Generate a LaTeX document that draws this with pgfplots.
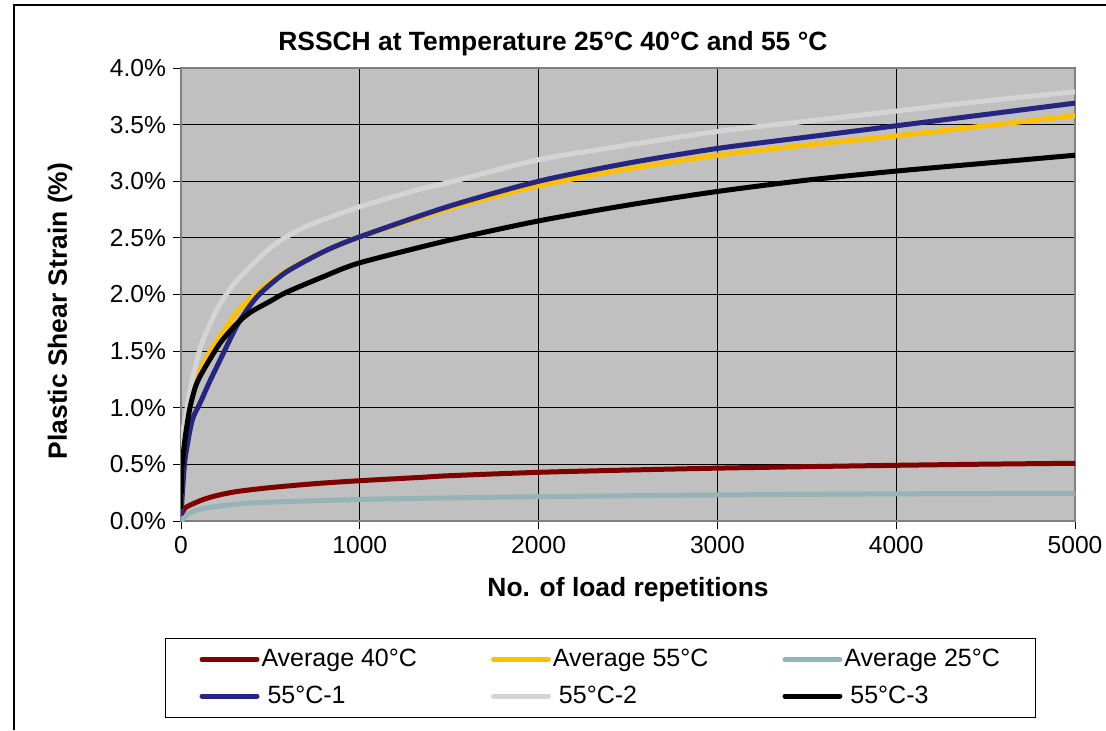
\documentclass[border=0pt]{standalone}
\usepackage{fontspec}
\setmainfont{Liberation Sans}
\usepackage{pgfplots}
\pgfplotsset{compat=1.18}

\definecolor{bggray}{HTML}{C0C0C0}
\definecolor{framegray}{HTML}{808080}
\definecolor{avgred}{HTML}{800000}
\definecolor{avgyellow}{HTML}{FFC000}
\definecolor{avgteal}{HTML}{96B4B8}
\definecolor{navy}{HTML}{262680}
\definecolor{lgray}{HTML}{D4D4D4}

\begin{document}
\begin{tikzpicture}
\path[use as bounding box] (0pt,0pt) rectangle (553pt,-365pt);
\draw[line width=1pt] (7pt,-365pt) -- (7pt,-2.5pt) -- (553pt,-2.5pt);
\begin{axis}[
    at={(90.5pt,-260.5pt)}, anchor=south west,
    scale only axis, width=447pt, height=226.5pt,
    xmin=0, xmax=5000, ymin=0, ymax=4,
    xtick={0,1000,...,5000}, ytick={0,0.5,...,4},
    scaled x ticks=false,
    /pgf/number format/assume math mode=true,
    /pgf/number format/1000 sep={},
    yticklabel={\pgfmathprintnumber[fixed,fixed zerofill,precision=1]{\tick}\%},
    ticklabel style={font=\fontsize{12.3}{14}\selectfont},
    grid=major, major grid style={black, line width=0.5pt},
    axis background/.style={fill=bggray},
    axis line style={draw=framegray, line width=1pt},
    tick align=outside, tick pos=left, major tick length=4pt,
    tick style={black, line width=0.5pt},
    title={RSSCH at Temperature 25°C 40°C and 55 °C},
    title style={font=\fontsize{13.2}{15}\selectfont\bfseries, at={(axis description cs:0.416,1)}, anchor=base, yshift=3pt},
    xlabel={No. of load repetitions},
    xlabel style={font=\fontsize{13.2}{15}\selectfont\bfseries, at={(axis description cs:0.5,-0.152)}, anchor=center},
    ylabel={Plastic Shear Strain (\%)},
    ylabel style={font=\fontsize{13.2}{15}\selectfont\bfseries, at={(axis description cs:-0.1353,0.4636)}, anchor=center},
    legend columns=3,
    legend cell align=left,
    legend image code/.code={\draw[#1, line cap=round] (0pt,0pt) -- (27.5pt,0pt);},
    legend style={at={(axis description cs:-0.0179,-0.2583)}, anchor=north west,
        draw=black, line width=0.5pt, fill=white,
        font=\fontsize{12.5}{14}\selectfont,
        inner xsep=17pt, inner ysep=4.4pt, row sep=6pt,
        nodes={inner sep=1pt},
        /tikz/column 2/.append style={column sep=36pt},
        /tikz/column 4/.append style={column sep=36pt}},
    every axis plot/.append style={line width=2.5pt, line join=round, smooth, tension=0.45},
]
\addplot[avgred] coordinates {(0,0.05) (20,0.11) (50,0.14) (125,0.19) (200,0.225) (311,0.26) (498,0.295) (750,0.33) (1000,0.356) (1337,0.385) (1500,0.40) (2000,0.43) (2500,0.45) (3000,0.467) (3500,0.48) (4000,0.492) (4500,0.502) (5000,0.51)};
\addlegendentry{Average 40°C}
\addplot[avgyellow] coordinates {(0,0.1) (5,0.4) (22,0.75) (50,1.0) (90,1.27) (150,1.46) (218,1.63) (311,1.84) (385,1.96) (450,2.05) (590,2.21) (800,2.38) (1000,2.51) (1500,2.76) (2000,2.96) (2500,3.11) (3000,3.23) (3500,3.32) (4000,3.40) (4500,3.49) (5000,3.58)};
\addlegendentry{Average 55°C}
\addplot[avgteal] coordinates {(0,0) (47,0.07) (125,0.11) (311,0.15) (498,0.167) (1000,0.19) (1337,0.20) (2000,0.215) (3000,0.23) (4000,0.24) (5000,0.245)};
\addlegendentry{Average 25°C}
\addplot[navy] coordinates {(0,0.05) (10,0.3) (22,0.54) (50,0.8) (69,0.92) (106,1.04) (160,1.23) (218,1.42) (311,1.72) (385,1.90) (450,2.02) (590,2.20) (800,2.38) (1000,2.51) (1500,2.78) (2000,3.0) (2500,3.16) (3000,3.29) (3500,3.39) (4000,3.49) (4500,3.59) (5000,3.69)};
\addlegendentry{\hspace{3pt}55°C-1}
\addplot[lgray] coordinates {(0,0.1) (9,0.74) (30,0.95) (47,1.13) (106,1.52) (162,1.74) (220,1.92) (311,2.12) (498,2.41) (684,2.59) (1000,2.775) (1337,2.93) (1500,2.99) (2000,3.19) (2500,3.32) (3000,3.44) (3500,3.53) (4000,3.62) (4500,3.71) (5000,3.79)};
\addlegendentry{\hspace{3pt}55°C-2}
\addplot[black] coordinates {(0,0.1) (5,0.45) (22,0.72) (50,1.0) (84,1.2) (125,1.33) (218,1.57) (311,1.74) (385,1.84) (498,1.94) (590,2.02) (800,2.16) (1000,2.28) (1500,2.48) (2000,2.65) (2500,2.79) (3000,2.91) (3500,3.01) (4000,3.09) (4500,3.16) (5000,3.23)};
\addlegendentry{\hspace{3pt}55°C-3}
\end{axis}
\end{tikzpicture}
\end{document}
